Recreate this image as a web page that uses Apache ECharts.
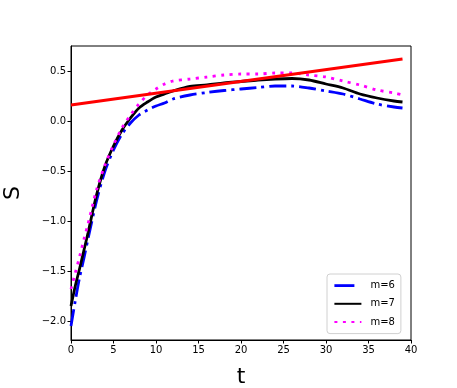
<!DOCTYPE html>
<html>
<head>
<meta charset="utf-8">
<script src="https://cdn.jsdelivr.net/npm/echarts@6/dist/echarts.min.js"></script>
<style>html,body{margin:0;padding:0;background:#fff}#c{width:457px;height:388px}</style>
</head>
<body>
<div id="c"></div>
<script>
var tVals = [0,0.5,1,1.5,2,3,4,5,6,7,8,9,10,11,12,14,16,18,20,22,24,26,28,30,32,34,36,38,39];
var m6 = [-2.05,-1.80,-1.57,-1.38,-1.18,-0.80,-0.50,-0.29,-0.13,-0.02,0.06,0.11,0.15,0.18,0.22,0.26,0.285,0.305,0.32,0.335,0.35,0.35,0.33,0.30,0.27,0.22,0.17,0.14,0.13];
var m7 = [-1.85,-1.65,-1.48,-1.30,-1.12,-0.74,-0.45,-0.25,-0.09,0.03,0.13,0.19,0.24,0.27,0.30,0.345,0.36,0.38,0.395,0.41,0.42,0.425,0.41,0.37,0.33,0.27,0.23,0.20,0.19];
var m8 = [-1.68,-1.52,-1.36,-1.19,-1.03,-0.69,-0.44,-0.24,-0.07,0.06,0.17,0.26,0.32,0.37,0.40,0.42,0.44,0.46,0.47,0.47,0.48,0.48,0.46,0.44,0.40,0.36,0.31,0.28,0.26];
var redT = [0,39];
var redS = [0.16,0.62];
var xTicks = [0,5,10,15,20,25,30,35,40];
var yTicks = [-2.0,-1.5,-1.0,-0.5,0.0,0.5];

function pairs(xs, ys){ return xs.map(function(x,i){return [x, ys[i]];}); }
var FONT = 'DejaVu Sans';
var noSym = {color:'transparent', borderColor:'transparent', borderWidth:0};
var chart = echarts.init(document.getElementById('c'), null, {renderer:'canvas'});
chart.setOption({
  animation:false,
  backgroundColor:'#fff',
  grid:{left:71, top:46, right:46, bottom:48, outerBoundsMode:'none', containLabel:false,
    show:true, borderColor:'#000', borderWidth:1, backgroundColor:'transparent'},
  xAxis:{type:'value', min:0, max:40, interval:5,
    name:'t', nameLocation:'middle', nameGap:26,
    nameTextStyle:{fontFamily:FONT, fontSize:22, color:'#000'},
    axisLine:{show:true, onZero:false, lineStyle:{color:'#000', width:1}},
    axisTick:{show:true, length:3.5, lineStyle:{color:'#000'}, customValues:xTicks},
    axisLabel:{fontFamily:FONT, fontSize:10, color:'#000', margin:5, customValues:xTicks},
    splitLine:{show:false}},
  yAxis:{type:'value', min:-2.19, max:0.75,
    name:'S', nameLocation:'middle', nameGap:47, nameRotate:90,
    nameTextStyle:{fontFamily:FONT, fontSize:22, color:'#000'},
    axisLine:{show:true, onZero:false, lineStyle:{color:'#000', width:1}},
    axisTick:{show:true, length:3.5, lineStyle:{color:'#000'}, customValues:yTicks},
    axisLabel:{fontFamily:FONT, fontSize:10, color:'#000', margin:5, customValues:yTicks,
      formatter:function(v){ return v.toFixed(1).replace('-', '\u2212'); }},
    splitLine:{show:false}},
  legend:{orient:'vertical', left:327, top:274, padding:[6,6,6,6], itemGap:7,
    itemWidth:27, itemHeight:14,
    backgroundColor:'rgba(255,255,255,0.8)', borderColor:'#d0d0d0', borderWidth:1, borderRadius:3,
    textStyle:{fontFamily:FONT, fontSize:10, color:'#000', padding:[0,0,0,4]},
    itemStyle:noSym,
    data:[
      {name:'m=6', itemStyle:noSym, lineStyle:{type:[20,100], width:2.8}},
      {name:'m=7', itemStyle:noSym},
      {name:'m=8', itemStyle:noSym}
    ]},
  series:[
    {name:'m=6', type:'line', data:pairs(tVals,m6), showSymbol:false, symbol:'none', smooth:0.3,
      color:'#0000ff', lineStyle:{color:'#0000ff', width:2.8, type:[17,5,3,5], cap:'butt'}},
    {name:'m=7', type:'line', data:pairs(tVals,m7), showSymbol:false, symbol:'none', smooth:0.3,
      color:'#000000', lineStyle:{color:'#000000', width:2.8}},
    {name:'m=8', type:'line', data:pairs(tVals,m8), showSymbol:false, symbol:'none', smooth:0.3,
      color:'#ff00ff', lineStyle:{color:'#ff00ff', width:2.8, type:[3,5.5], cap:'butt'}},
    {name:'lin', type:'line', data:pairs(redT,redS), showSymbol:false, symbol:'none',
      color:'#ff0000', lineStyle:{color:'#ff0000', width:2.8}}
  ]
});
</script>
</body>
</html>
